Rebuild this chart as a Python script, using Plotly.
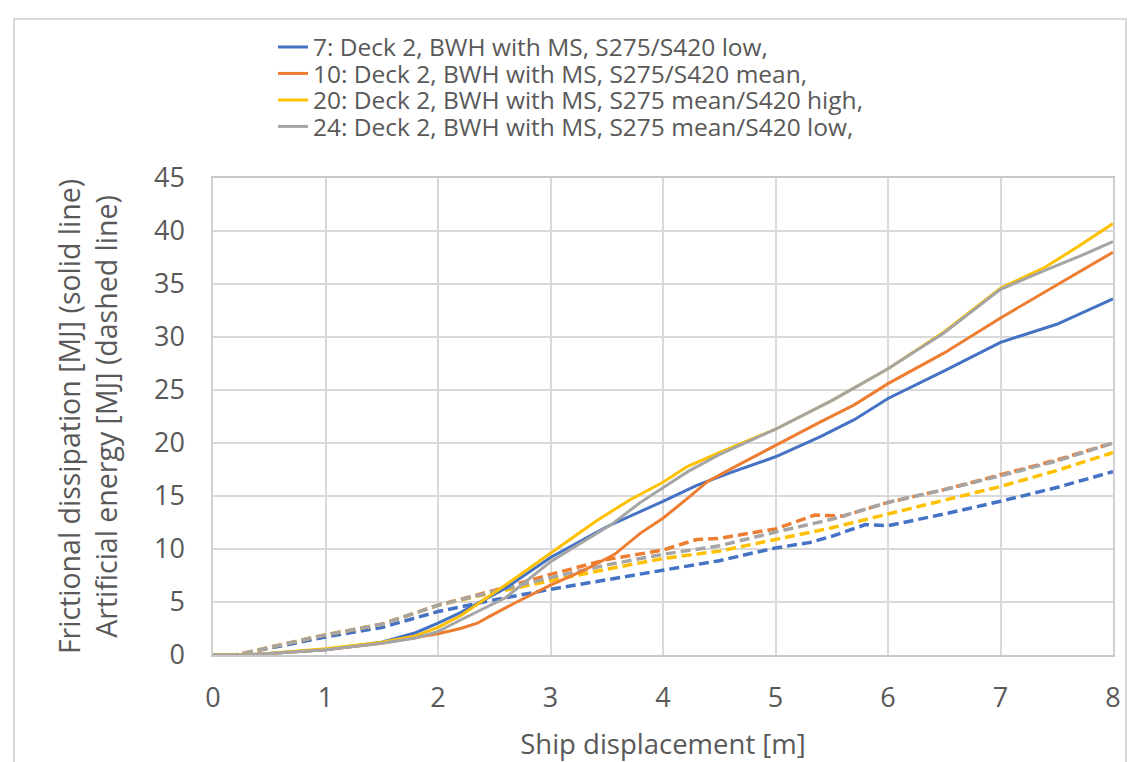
import plotly.graph_objects as go

# ---- data ----
names = [
    "7: Deck 2, BWH with MS, S275/S420 low,",
    "10: Deck 2, BWH with MS, S275/S420 mean,",
    "20: Deck 2, BWH with MS, S275 mean/S420 high,",
    "24: Deck 2, BWH with MS, S275 mean/S420 low,",
]
colors = ["#4472C4", "#ED7D31", "#FFC000", "#A5A5A5"]

# Frictional dissipation (solid lines)
blue_solid_x = [0, 0.3, 1.0, 1.5, 1.8, 2.0, 2.2, 2.6, 3.0, 3.5, 4.0, 4.3, 4.6, 5.0, 5.4, 5.7, 6.0, 6.5, 7.0, 7.5, 8.0]
blue_solid_y = [0, 0, 0.5, 1.2, 2.1, 3.0, 4.0, 6.3, 9.2, 12.1, 14.5, 16.0, 17.2, 18.7, 20.6, 22.2, 24.2, 26.8, 29.5, 31.2, 33.6]

orange_solid_x = [0, 0.3, 1.0, 1.5, 2.0, 2.2, 2.35, 2.45, 2.7, 3.0, 3.3, 3.57, 3.8, 4.0, 4.22, 4.4, 4.7, 5.0, 5.4, 5.7, 6.0, 6.5, 7.0, 7.5, 8.0]
orange_solid_y = [0, 0, 0.5, 1.1, 2.0, 2.5, 3.0, 3.6, 5.0, 6.6, 8.0, 9.5, 11.5, 12.9, 14.8, 16.4, 18.1, 19.8, 22.0, 23.6, 25.6, 28.5, 31.8, 34.9, 38.0]

yellow_solid_x = [0, 0.3, 1.0, 1.5, 1.8, 2.0, 2.2, 2.6, 3.0, 3.4, 3.7, 4.0, 4.22, 4.5, 5.0, 5.5, 6.0, 6.5, 7.0, 7.4, 7.7, 8.0]
yellow_solid_y = [0, 0, 0.6, 1.2, 1.8, 2.6, 3.7, 6.6, 9.6, 12.6, 14.6, 16.3, 17.8, 19.1, 21.3, 24.0, 27.0, 30.5, 34.6, 36.6, 38.6, 40.7]

gray_solid_x = [0, 0.3, 1.0, 1.5, 1.8, 2.0, 2.2, 2.6, 3.0, 3.54, 3.8, 4.0, 4.22, 4.5, 5.0, 5.5, 6.0, 6.5, 7.0, 7.4, 7.7, 8.0]
gray_solid_y = [0, 0, 0.5, 1.1, 1.6, 2.2, 3.3, 5.4, 8.8, 12.3, 14.4, 15.8, 17.3, 18.9, 21.3, 24.0, 27.0, 30.4, 34.5, 36.3, 37.6, 39.0]

# Artificial energy (dashed lines)
blue_dash_x = [0, 0.2, 1.0, 1.5, 2.0, 2.5, 3.0, 3.5, 4.0, 4.5, 5.0, 5.3, 5.5, 5.8, 6.0, 6.5, 7.0, 7.5, 8.0]
blue_dash_y = [0, 0, 1.7, 2.6, 4.1, 5.2, 6.2, 7.1, 8.0, 8.9, 10.1, 10.6, 11.2, 12.3, 12.2, 13.3, 14.5, 15.8, 17.3]

orange_dash_x = [0, 0.2, 1.0, 1.5, 2.0, 2.5, 3.0, 3.5, 4.0, 4.3, 4.5, 5.0, 5.35, 5.6, 6.0, 6.5, 7.0, 7.5, 8.0]
orange_dash_y = [0, 0, 1.9, 2.9, 4.7, 6.1, 7.6, 9.0, 9.9, 10.9, 11.0, 11.9, 13.2, 13.1, 14.4, 15.6, 17.0, 18.4, 20.0]

yellow_dash_x = [0, 0.2, 1.0, 1.5, 2.0, 2.5, 3.0, 3.5, 4.0, 4.5, 5.0, 5.5, 6.0, 6.5, 7.0, 7.5, 8.0]
yellow_dash_y = [0, 0, 1.9, 2.9, 4.7, 5.9, 7.0, 8.1, 9.1, 9.8, 10.9, 12.0, 13.3, 14.6, 15.9, 17.4, 19.1]

gray_dash_x = [0, 0.2, 1.0, 1.5, 2.0, 2.5, 3.0, 3.5, 4.0, 4.5, 5.0, 5.5, 6.0, 6.5, 7.0, 7.5, 8.0]
gray_dash_y = [0, 0, 1.9, 2.9, 4.7, 6.0, 7.3, 8.5, 9.5, 10.3, 11.6, 12.8, 14.4, 15.6, 16.9, 18.3, 20.0]

x_ticks = [0, 1, 2, 3, 4, 5, 6, 7, 8]
y_ticks = [0, 5, 10, 15, 20, 25, 30, 35, 40, 45]

solid = [(blue_solid_x, blue_solid_y), (orange_solid_x, orange_solid_y),
         (yellow_solid_x, yellow_solid_y), (gray_solid_x, gray_solid_y)]
dashed = [(blue_dash_x, blue_dash_y), (orange_dash_x, orange_dash_y),
          (yellow_dash_x, yellow_dash_y), (gray_dash_x, gray_dash_y)]

FONT = "Open Sans"
TXT = "#595959"

fig = go.Figure()
legend_ids = ["legend", "legend2", "legend3", "legend4"]
for i in range(4):
    fig.add_trace(go.Scatter(x=dashed[i][0], y=dashed[i][1], mode="lines",
                             line=dict(color=colors[i], width=3.5, dash="10px,5px"),
                             showlegend=False, hoverinfo="skip"))
for i in range(4):
    fig.add_trace(go.Scatter(x=solid[i][0], y=solid[i][1], mode="lines", name=names[i],
                             line=dict(color=colors[i], width=3),
                             legend=legend_ids[i]))

# plot area: x 205..1105 px, y 170..647 px
row_px = [39, 65.5, 92, 118.5]
leg_common = dict(x=(265 - 205) / 900, xanchor="left", yanchor="middle", bgcolor="rgba(0,0,0,0)",
                  font=dict(family=FONT, size=24.5, color=TXT), borderwidth=0)
layout_legends = {}
for lid, py in zip(legend_ids, row_px):
    layout_legends[lid] = dict(leg_common, y=(647 - py) / 477)

fig.update_layout(
    width=1140, height=762,
    margin=dict(l=205, r=35, t=170, b=115),
    paper_bgcolor="white", plot_bgcolor="white",
    font=dict(family=FONT, color=TXT, size=24),
    **layout_legends,
    xaxis=dict(range=[0, 8], tickvals=x_ticks, showgrid=True, gridcolor="#d9d9d9", gridwidth=1.5,
               showline=True, linecolor="#c8c8c8", linewidth=1.5, mirror=True,
               zeroline=False, ticks="", ticklabelstandoff=18,
               tickfont=dict(family=FONT, size=27, color=TXT),
               title=dict(text="Ship displacement [m]", standoff=21,
                          font=dict(family=FONT, size=27.5, color=TXT))),
    yaxis=dict(range=[0, 45], tickvals=y_ticks, showgrid=True, gridcolor="#d9d9d9", gridwidth=1.5,
               showline=True, linecolor="#d0d0d0", linewidth=1.5, mirror=True,
               zeroline=False, ticks="", ticklabelstandoff=21,
               tickfont=dict(family=FONT, size=27, color=TXT),
               title=dict(text="Frictional dissipation [MJ] (solid line)<br>Artificial energy [MJ] (dashed line)",
                          standoff=28, font=dict(family=FONT, size=28.5, color=TXT))),
    shapes=[dict(type="rect", xref="paper", yref="paper",
                 x0=(6 - 205) / 900, x1=(1118 - 205) / 900,
                 y0=(647 - 757) / 477, y1=(647 - 11) / 477,
                 line=dict(color="#d9d9d9", width=2), layer="below")],
)
fig.update_xaxes(automargin=False)
fig.update_yaxes(automargin=False)

fig.write_html("out.html")
